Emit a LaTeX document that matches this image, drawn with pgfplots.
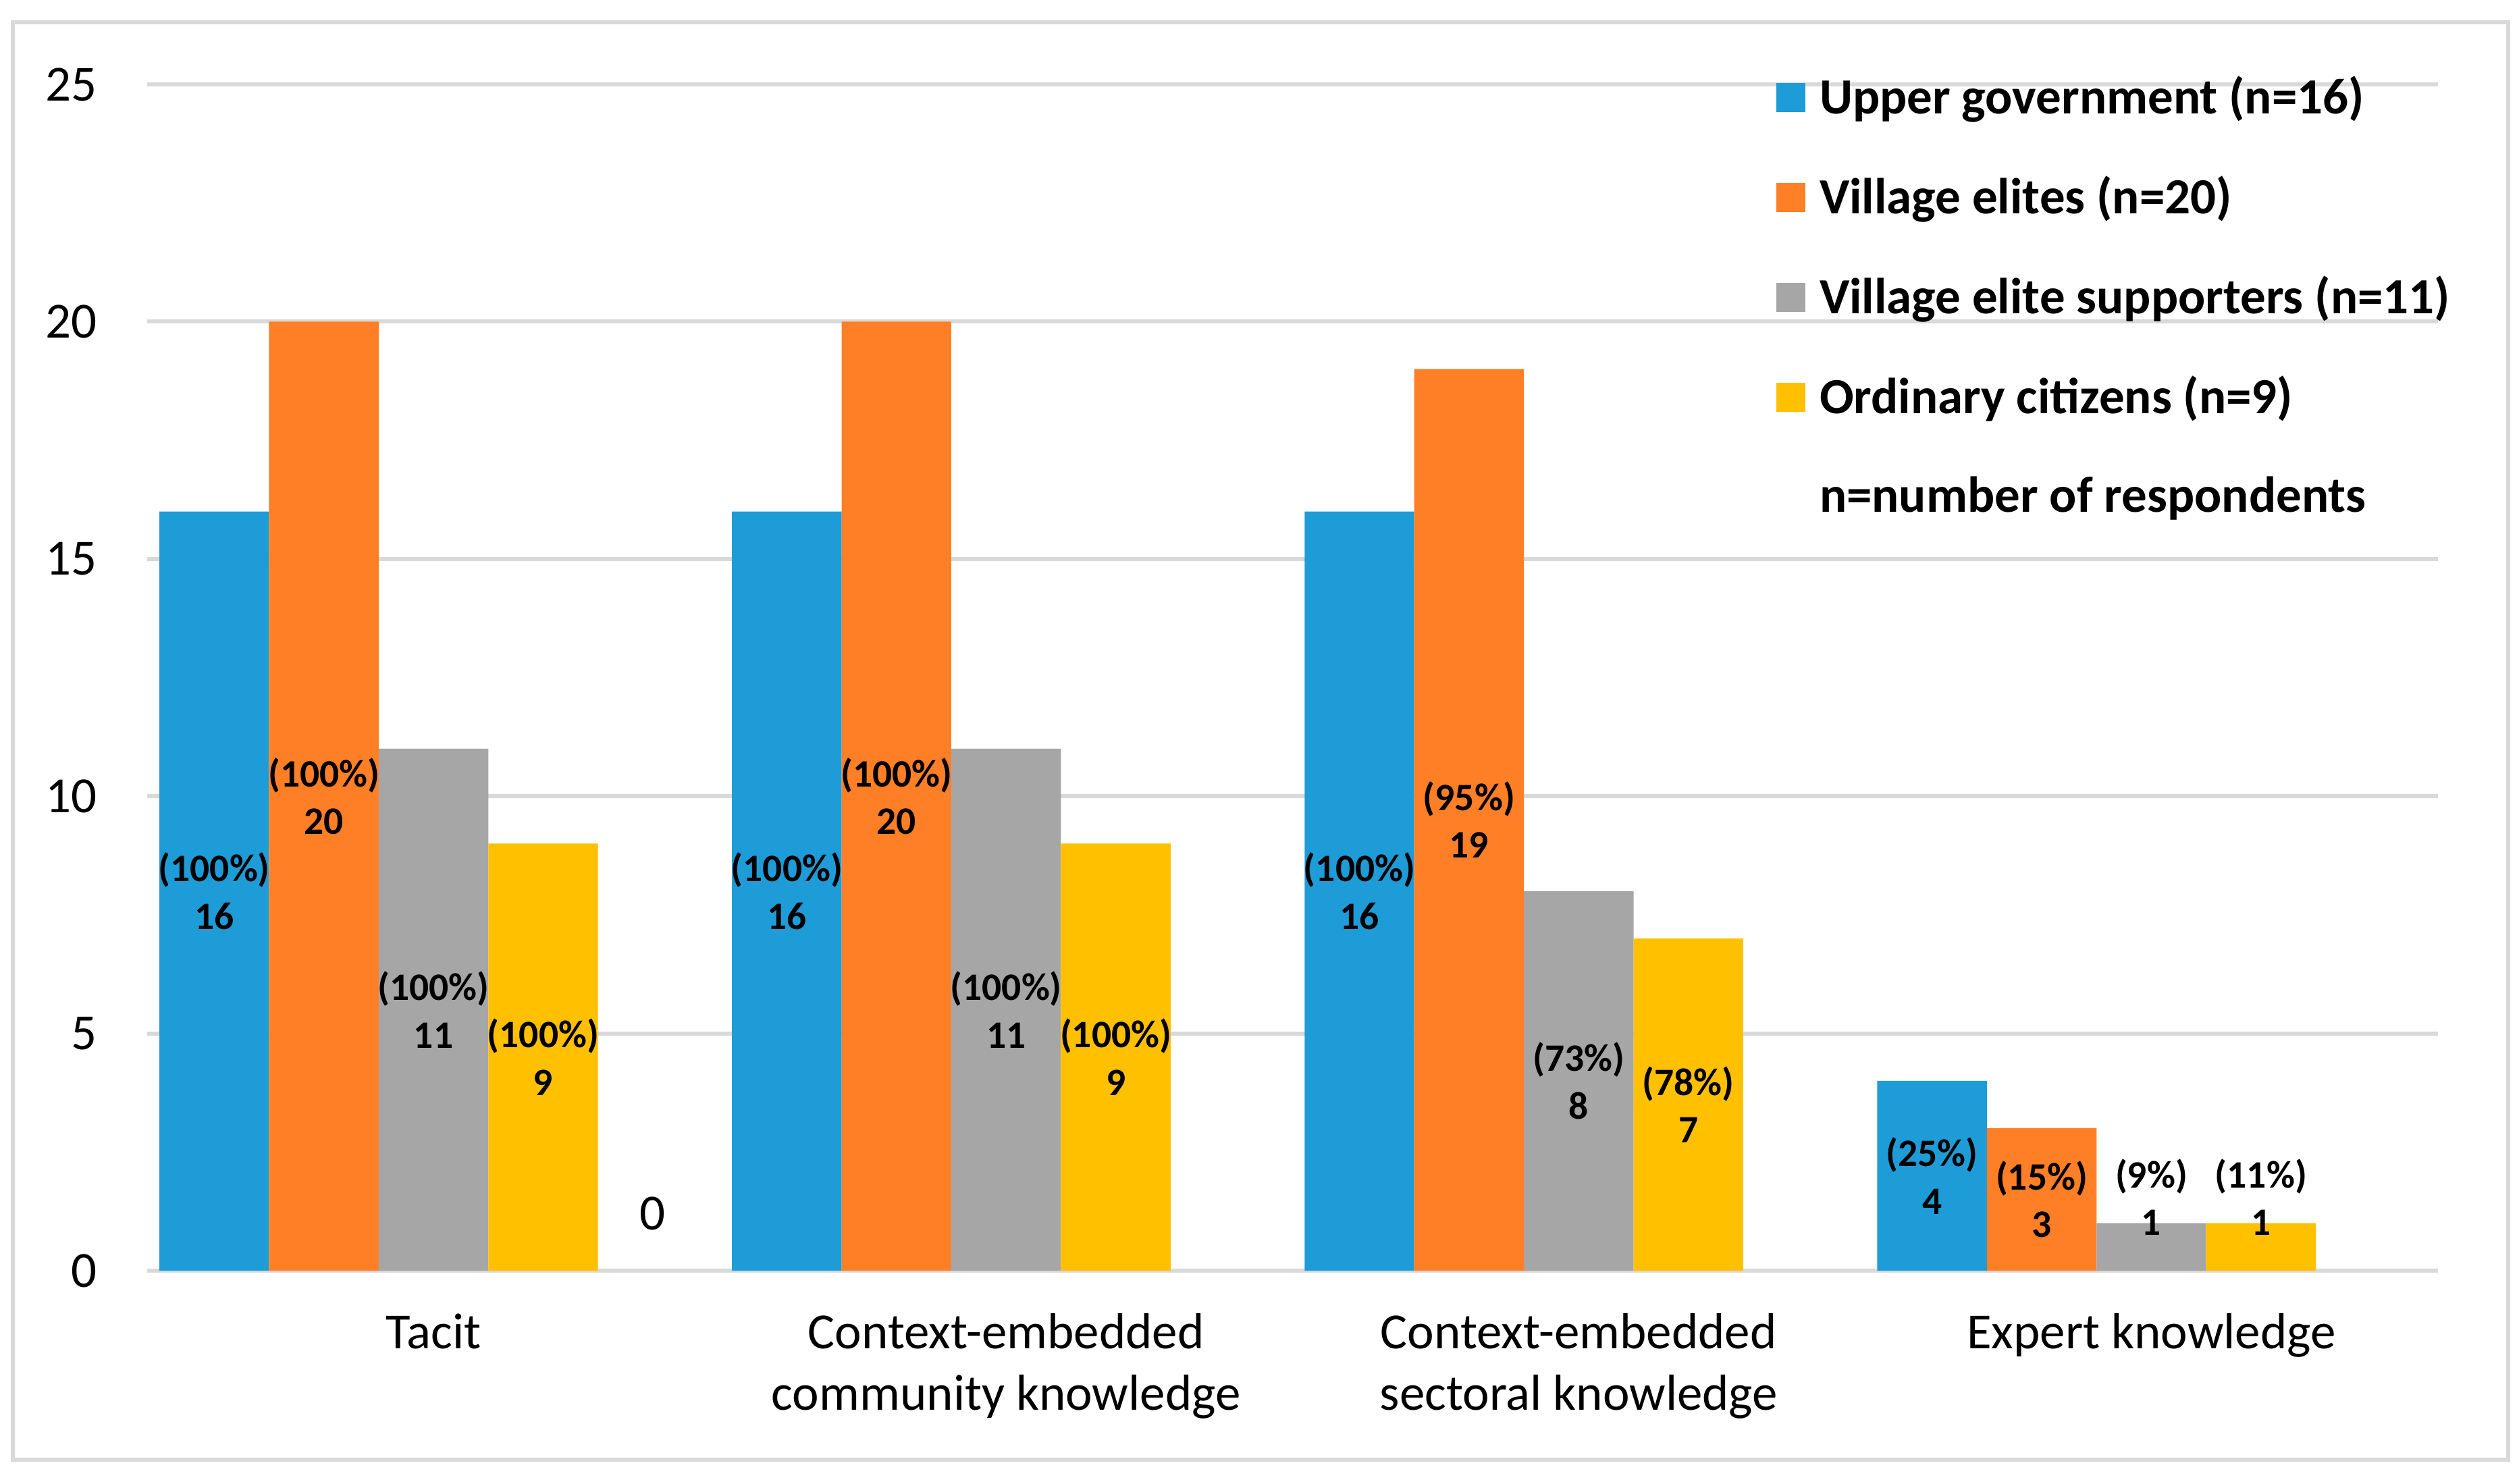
\documentclass[border=0pt]{standalone}
\usepackage{pgfplots}
\pgfplotsset{compat=1.18}
\usepackage{pgfplotstable}
\usepackage{fontspec}
\setmainfont{Carlito}

\definecolor{cBlue}{RGB}{30,156,215}
\definecolor{cOrange}{RGB}{255,127,39}
\definecolor{cGray}{RGB}{166,166,166}
\definecolor{cYellow}{RGB}{255,192,0}
\definecolor{cGrid}{RGB}{217,217,217}

% x = category, n = respondents, pct = share, ly = height of the label
\pgfplotstableread{
x n pct ly
0 16 100 8
1 16 100 8
2 16 100 8
3 4 25 2
}\upper
\pgfplotstableread{
x n pct ly
0 20 100 10
1 20 100 10
2 19 95 9.5
3 3 15 1.5
}\elites
\pgfplotstableread{
x n pct ly
0 11 100 5.5
1 11 100 5.5
2 8 73 4
3 1 9 1.55
}\supporters
\pgfplotstableread{
x n pct ly
0 9 100 4.5
1 9 100 4.5
2 7 78 3.5
3 1 11 1.55
}\citizens
\pgfplotstableread{
x n ly
0 0 1.21
}\zeroes

\pgfplotsset{
  mybar/.style={ybar, bar width=0.1915, draw=none, fill=#1,
    legend image code/.code={\fill[fill=#1] (0pt,-4.3pt) rectangle (8.6pt,4.3pt);}},
  mylabel/.style={draw=none, mark=none, forget plot, point meta=explicit,
    visualization depends on={\thisrow{pct} \as \pct},
    nodes near coords={(\pgfmathprintnumber{\pct}\%)\\\pgfmathprintnumber{\pgfplotspointmeta}},
    every node near coord/.style={anchor=center, inner sep=0pt, align=center,
      font=\fontsize{11.5}{14.1}\selectfont\bfseries, text=black}},
}

\begin{document}
\begin{tikzpicture}
\path[use as bounding box] (0,0) rectangle (746.2pt,439.4pt);
\draw[cGrid, line width=1.2pt] (3.8pt,7pt) rectangle (743pt,432.8pt);

\begin{axis}[
  scale only axis,
  width=678.5pt, height=351.4pt,
  at={(43.6pt,63pt)}, anchor=south west,
  xmin=-0.5, xmax=3.5, ymin=0, ymax=25,
  ytick={0,5,...,25},
  xtick={0,1,2,3},
  xticklabels={{\strut Tacit},{\strut Context-embedded\\community knowledge},{\strut Context-embedded\\sectoral knowledge},{\strut Expert knowledge}},
  xticklabel style={anchor=north, inner sep=0pt, yshift=-10.06pt, align=center,
    font=\fontsize{15}{18.2}\selectfont},
  yticklabel style={anchor=east, inner sep=0pt, xshift=-14.6pt,
    font=\fontsize{15}{17}\selectfont},
  /pgf/number format/assume math mode=true,
  axis line style={draw=none},
  tick style={draw=none},
  ymajorgrids,
  grid style={line width=1.2pt, draw=cGrid},
  clip=false,
  legend style={draw=none, fill=none, at={(0.711,1.0075)}, anchor=north west,
    inner sep=0pt, row sep=17.0pt, column sep=4.2pt,
    font=\fontsize{15}{17}\selectfont\bfseries, nodes={inner sep=0pt}},
  legend cell align=left,
]
\addplot[mybar=cBlue, bar shift=-0.383] table[x=x, y=n] {\upper};
\addlegendentry{Upper government (n=16)}
\addplot[mybar=cOrange, bar shift=-0.1915] table[x=x, y=n] {\elites};
\addlegendentry{Village elites (n=20)}
\addplot[mybar=cGray, bar shift=0] table[x=x, y=n] {\supporters};
\addlegendentry{Village elite supporters (n=11)}
\addplot[mybar=cYellow, bar shift=0.1915] table[x=x, y=n] {\citizens};
\addlegendentry{Ordinary citizens (n=9)}
\addlegendimage{empty legend}
\addlegendentry{n=number of respondents}

\addplot[mylabel] table[x expr=\thisrow{x}-0.383, y=ly, meta=n] {\upper};
\addplot[mylabel] table[x expr=\thisrow{x}-0.1915, y=ly, meta=n] {\elites};
\addplot[mylabel] table[x expr=\thisrow{x}, y=ly, meta=n] {\supporters};
\addplot[mylabel] table[x expr=\thisrow{x}+0.1915, y=ly, meta=n] {\citizens};
\addplot[draw=none, mark=none, forget plot, point meta=explicit,
  nodes near coords={\pgfmathprintnumber{\pgfplotspointmeta}},
  every node near coord/.style={anchor=center, inner sep=0pt,
    font=\fontsize{15}{17}\selectfont, text=black}]
  table[x expr=\thisrow{x}+0.383, y=ly, meta=n] {\zeroes};
\end{axis}
\end{tikzpicture}
\end{document}
